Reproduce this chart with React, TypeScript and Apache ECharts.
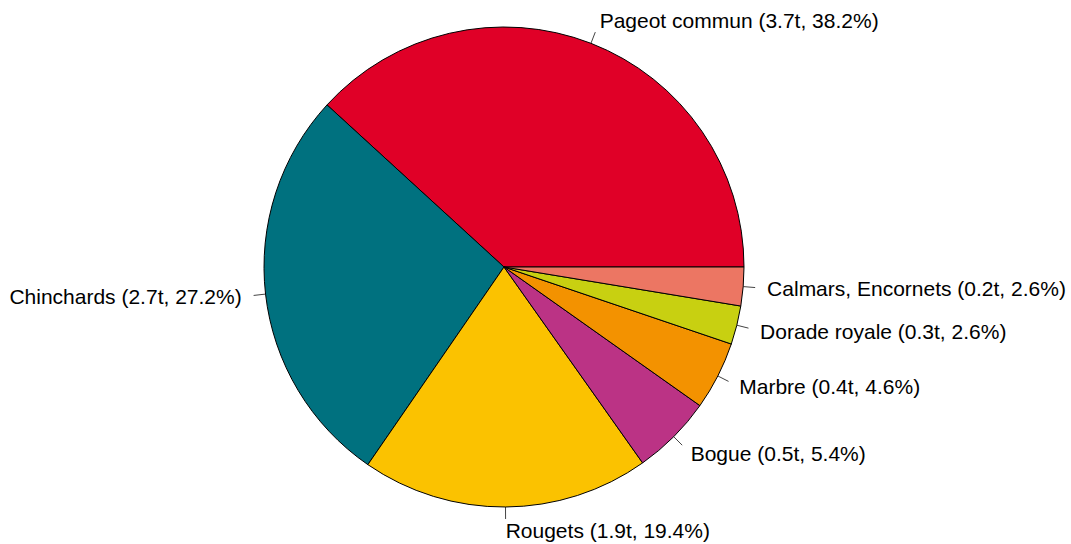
import React, { useEffect, useRef } from "react";
import * as echarts from "echarts";

const categories = [
  "Pageot commun",
  "Chinchards",
  "Rougets",
  "Bogue",
  "Marbre",
  "Dorade royale",
  "Calmars, Encornets",
];
const tonnes = [3.7, 2.7, 1.9, 0.5, 0.4, 0.3, 0.2];
const percents = [38.2, 27.2, 19.4, 5.4, 4.6, 2.6, 2.6];
const colors = ["#E00027", "#00717F", "#FBC200", "#BB3385", "#F39200", "#C8D011", "#EC7663"];

export default function App() {
  const ref = useRef<HTMLDivElement>(null);
  useEffect(() => {
    document.body.style.margin = "0";
    const chart = echarts.init(ref.current!, undefined, { renderer: "svg" });
    const data = categories.map((name, i) => ({
      name,
      value: percents[i],
      itemStyle: { color: colors[i] },
    }));
    chart.setOption({
      animation: false,
      backgroundColor: "#ffffff",
      series: [
        {
          type: "pie",
          center: [504, 267],
          radius: 240,
          startAngle: 0,
          clockwise: false,
          avoidLabelOverlap: false,
          data,
          itemStyle: { borderColor: "#000000", borderWidth: 1 },
          emphasis: { disabled: true },
          label: {
            show: true,
            position: "outside",
            fontFamily: "Liberation Sans, Arial, sans-serif",
            fontSize: 21,
            color: "#000000",
            distanceToLabelLine: 0,
            padding: [0, 0, 2, 0],
            formatter: (p: any) =>
              `${p.name} (${tonnes[p.dataIndex]}t, ${percents[p.dataIndex].toFixed(1)}%)`,
          },
          labelLine: {
            show: true,
            length: 24,
            length2: 0,
            lineStyle: { color: "#444444", width: 1, type: [12, 40], dashOffset: 0 },
          },
        },
      ],
    });
    return () => chart.dispose();
  }, []);
  return <div ref={ref} style={{ width: 1071, height: 544 }} />;
}
